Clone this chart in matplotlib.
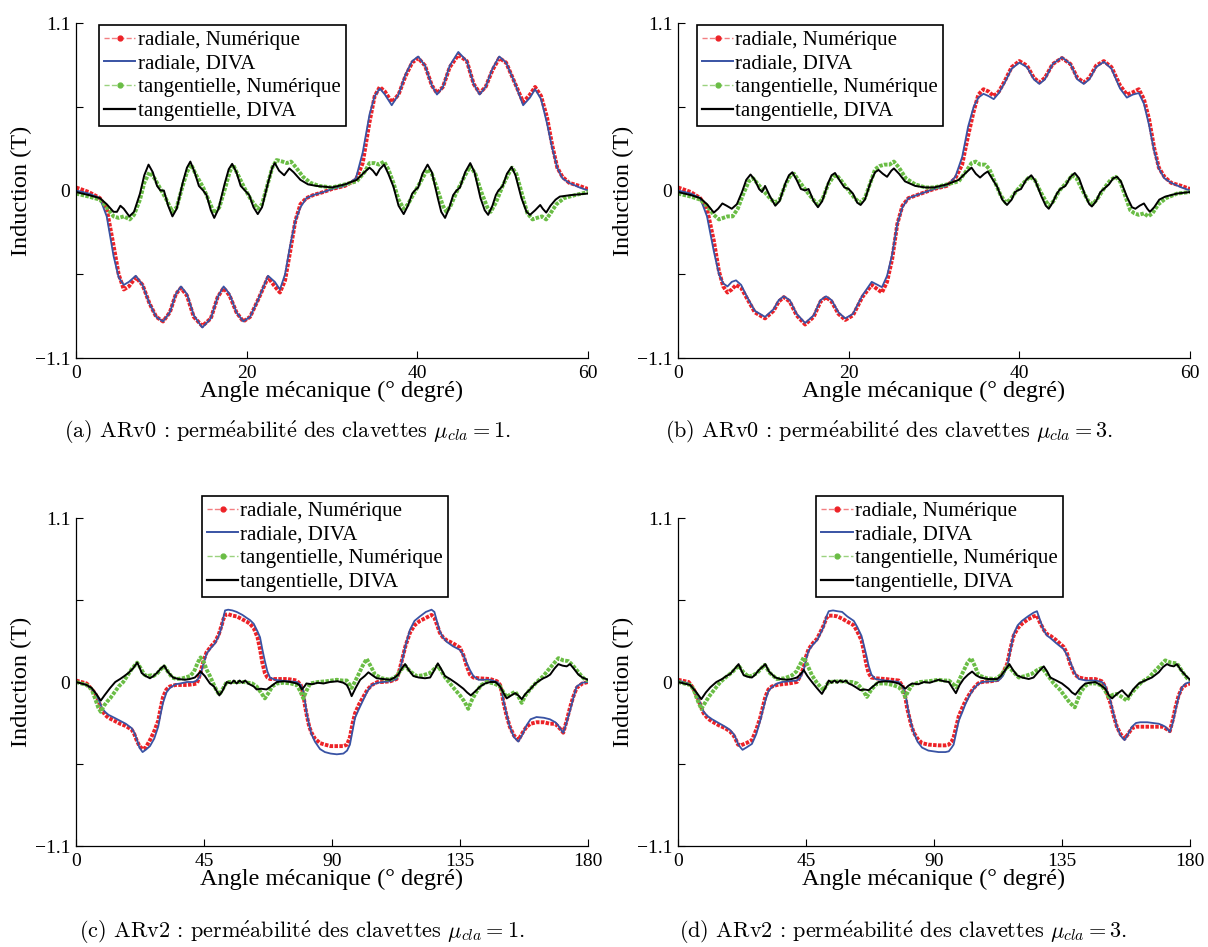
import matplotlib
matplotlib.use("Agg")
import matplotlib.pyplot as plt
from matplotlib.lines import Line2D

plt.rcParams["font.family"] = ["Liberation Serif", "DejaVu Serif"]
plt.rcParams["mathtext.fontset"] = "cm"

# ---------------- (a) ARv0, mu_cla = 1  (angle 0..60 deg) ----------------
a_rad_x = [0, 1.5, 2.8, 3.6, 4.4, 5.0, 5.6, 6.2, 7.0, 7.8, 8.6, 9.4, 10.2, 11.0, 11.7, 12.3,
           13.0, 13.8, 14.8, 15.8, 16.6, 17.3, 18.0, 18.8, 19.6, 20.4, 21.4, 22.5, 23.3, 23.9,
           24.5, 25.1, 25.7, 26.3, 27.0, 27.8, 29.0, 30.0, 31.5, 32.8, 33.6, 34.4, 35.0, 35.6,
           36.2, 37.0, 37.8, 38.6, 39.4, 40.1, 40.9, 41.7, 42.3, 43.0, 43.8, 44.8, 45.8, 46.6,
           47.3, 48.0, 48.8, 49.6, 50.4, 51.4, 52.4, 53.2, 53.8, 54.5, 55.2, 55.8, 56.4, 57.0,
           57.8, 59.0, 60.0]
a_rad_diva = [0.00, -0.02, -0.05, -0.17, -0.43, -0.57, -0.62, -0.60, -0.56, -0.62, -0.74, -0.83,
              -0.86, -0.80, -0.68, -0.63, -0.68, -0.82, -0.90, -0.84, -0.70, -0.63, -0.68, -0.80,
              -0.86, -0.83, -0.71, -0.56, -0.60, -0.65, -0.55, -0.36, -0.20, -0.11, -0.05, -0.03,
              -0.01, 0.01, 0.03, 0.08, 0.25, 0.50, 0.62, 0.67, 0.63, 0.56, 0.63, 0.76, 0.85, 0.88,
              0.82, 0.69, 0.63, 0.68, 0.82, 0.91, 0.85, 0.70, 0.63, 0.68, 0.80, 0.88, 0.84, 0.71,
              0.56, 0.61, 0.665, 0.60, 0.44, 0.28, 0.15, 0.08, 0.05, 0.02, 0.00]
a_rad_num = [0.02, -0.01, -0.05, -0.12, -0.36, -0.55, -0.65, -0.63, -0.57, -0.62, -0.74, -0.83,
             -0.86, -0.80, -0.68, -0.64, -0.69, -0.83, -0.89, -0.84, -0.70, -0.64, -0.69, -0.80,
             -0.86, -0.83, -0.71, -0.57, -0.63, -0.67, -0.59, -0.40, -0.20, -0.09, -0.05, -0.03,
             -0.01, 0.01, 0.03, 0.07, 0.18, 0.45, 0.62, 0.68, 0.65, 0.58, 0.63, 0.75, 0.84, 0.87,
             0.82, 0.69, 0.64, 0.68, 0.81, 0.89, 0.85, 0.70, 0.64, 0.68, 0.79, 0.87, 0.84, 0.71,
             0.58, 0.63, 0.68, 0.62, 0.48, 0.30, 0.15, 0.09, 0.05, 0.03, 0.01]
a_tan_diva_x = [0, 1.5, 2.8, 3.6, 4.4, 4.8, 5.2, 5.6, 6.25, 6.8, 7.5, 8.0, 8.5, 9.0, 9.5, 9.9,
                10.3, 10.8, 11.3, 11.8, 12.5, 13.0, 13.4, 13.9, 14.4, 14.9, 15.3, 15.8, 16.2,
                16.7, 17.4, 17.9, 18.3, 18.8, 19.3, 19.8, 20.3, 20.8, 21.3, 21.8, 22.5, 23.0,
                23.3, 23.8, 24.4, 25.0, 25.5, 26.3, 27.2, 28.2, 30.0, 31.5, 32.9, 33.8, 34.4,
                34.8, 35.2, 35.6, 36.1, 36.6, 37.2, 37.8, 38.4, 38.9, 39.4, 39.7, 40.1, 40.6,
                41.2, 41.7, 42.4, 42.8, 43.25, 43.7, 44.2, 44.6, 45.0, 45.6, 46.2, 46.7, 47.4,
                47.9, 48.3, 48.8, 49.2, 49.5, 50.0, 50.5, 51.05, 51.5, 52.2, 52.8, 53.2, 53.8,
                54.4, 54.7, 55.1, 55.6, 56.2, 56.7, 58.0, 60.0]
a_tan_diva = [-0.01, -0.03, -0.05, -0.09, -0.14, -0.14, -0.10, -0.12, -0.17, -0.14, -0.02, 0.10,
              0.17, 0.12, 0.03, 0.00, 0.00, -0.10, -0.17, -0.12, 0.05, 0.15, 0.19, 0.12, 0.03,
              0.00, -0.03, -0.13, -0.18, -0.12, 0.04, 0.14, 0.175, 0.12, 0.03, 0.00, -0.03, -0.11,
              -0.155, -0.11, 0.05, 0.15, 0.18, 0.13, 0.10, 0.145, 0.12, 0.07, 0.04, 0.03, 0.02,
              0.04, 0.07, 0.12, 0.15, 0.13, 0.10, 0.14, 0.17, 0.11, 0.025, -0.10, -0.155, -0.10,
              -0.02, 0.00, 0.02, 0.11, 0.17, 0.12, -0.05, -0.14, -0.18, -0.12, -0.03, 0.00, 0.02,
              0.12, 0.18, 0.12, -0.05, -0.13, -0.16, -0.10, -0.03, 0.00, 0.03, 0.11, 0.155, 0.10,
              -0.05, -0.14, -0.16, -0.13, -0.095, -0.12, -0.145, -0.10, -0.06, -0.04, -0.03, -0.02]
a_tan_num_x = [0, 1.5, 2.8, 3.6, 4.4, 5.0, 5.6, 6.3, 6.8, 7.5, 8.0, 8.6, 9.2, 9.9, 10.5, 11.3,
               11.8, 12.5, 13.0, 13.5, 14.0, 14.9, 15.6, 16.2, 16.8, 17.5, 18.0, 18.4, 19.0,
               19.8, 20.5, 21.3, 21.8, 22.5, 23.0, 23.5, 24.2, 24.7, 25.2, 25.8, 26.6, 27.5,
               28.5, 30.0, 31.5, 32.9, 33.8, 34.4, 35.0, 35.5, 36.1, 36.6, 37.2, 37.8, 38.4,
               38.9, 39.7, 40.6, 41.2, 41.7, 42.4, 43.0, 43.4, 43.9, 44.6, 45.6, 46.2, 46.8,
               47.5, 48.2, 48.6, 49.2, 50.0, 50.6, 51.1, 51.6, 52.3, 52.9, 53.5, 54.0, 54.6,
               55.1, 55.6, 56.3, 57.2, 58.5, 60.0]
a_tan_num = [-0.02, -0.04, -0.06, -0.11, -0.17, -0.18, -0.17, -0.19, -0.16, -0.06, 0.05, 0.12,
             0.08, 0.01, -0.05, -0.14, -0.11, 0.03, 0.12, 0.17, 0.11, 0.02, -0.07, -0.15, -0.11,
             0.02, 0.12, 0.17, 0.10, 0.01, -0.06, -0.12, -0.09, 0.05, 0.15, 0.20, 0.19, 0.18,
             0.19, 0.15, 0.09, 0.05, 0.03, 0.02, 0.04, 0.06, 0.12, 0.18, 0.18, 0.17, 0.19, 0.14,
             0.05, -0.06, -0.12, -0.09, -0.01, 0.08, 0.14, 0.11, 0.00, -0.10, -0.14, -0.10,
             -0.01, 0.10, 0.16, 0.11, -0.01, -0.11, -0.14, -0.08, 0.03, 0.10, 0.15, 0.11, -0.03,
             -0.15, -0.19, -0.18, -0.17, -0.19, -0.15, -0.09, -0.05, -0.03, -0.01]

# ---------------- (b) ARv0, mu_cla = 3  (angle 0..60 deg) ----------------
b_rad_x = [0, 1.5, 2.6, 3.4, 4.2, 4.8, 5.3, 5.8, 6.3, 6.8, 7.4, 8.1, 9.0, 10.2, 11.2, 11.8,
           12.4, 13.1, 13.9, 14.9, 15.9, 16.7, 17.35, 18.0, 18.8, 19.6, 20.5, 21.6, 22.7, 23.4,
           23.9, 24.5, 25.1, 25.7, 26.3, 27.0, 28.0, 29.0, 30.0, 31.5, 32.5, 33.3, 34.0, 34.65,
           35.2, 35.8, 36.4, 37.0, 37.6, 38.3, 39.1, 40.0, 40.9, 41.7, 42.35, 43.0, 43.9, 45.0,
           46.0, 46.8, 47.55, 48.2, 49.0, 49.9, 50.8, 51.8, 52.6, 53.3, 54.0, 54.6, 55.2, 55.8,
           56.35, 57.0, 57.8, 59.0, 60.0]
b_rad_diva = [0.00, -0.02, -0.05, -0.17, -0.40, -0.55, -0.61, -0.63, -0.60, -0.59, -0.62, -0.70,
              -0.79, -0.83, -0.78, -0.72, -0.695, -0.72, -0.81, -0.87, -0.82, -0.72, -0.695,
              -0.72, -0.80, -0.84, -0.81, -0.69, -0.60, -0.62, -0.635, -0.56, -0.42, -0.22, -0.11,
              -0.05, -0.03, -0.01, 0.01, 0.03, 0.09, 0.22, 0.42, 0.55, 0.61, 0.635, 0.62, 0.60,
              0.64, 0.71, 0.80, 0.84, 0.81, 0.73, 0.70, 0.73, 0.83, 0.875, 0.83, 0.73, 0.70, 0.73,
              0.81, 0.845, 0.80, 0.67, 0.61, 0.63, 0.64, 0.57, 0.43, 0.26, 0.145, 0.08, 0.05, 0.02,
              0.00]
b_rad_num = [0.02, -0.01, -0.05, -0.12, -0.33, -0.53, -0.63, -0.67, -0.65, -0.62, -0.64, -0.71,
             -0.80, -0.84, -0.79, -0.73, -0.70, -0.73, -0.82, -0.88, -0.83, -0.73, -0.70, -0.73,
             -0.81, -0.85, -0.82, -0.70, -0.62, -0.65, -0.67, -0.60, -0.45, -0.22, -0.10, -0.05,
             -0.03, -0.01, 0.01, 0.03, 0.08, 0.17, 0.36, 0.52, 0.63, 0.665, 0.65, 0.62, 0.65,
             0.72, 0.81, 0.85, 0.82, 0.74, 0.71, 0.74, 0.83, 0.87, 0.83, 0.74, 0.71, 0.74, 0.82,
             0.85, 0.81, 0.69, 0.63, 0.645, 0.665, 0.60, 0.47, 0.28, 0.15, 0.09, 0.05, 0.03, 0.01]
b_tan_diva_x = [0, 1.5, 2.6, 3.4, 4.2, 4.7, 5.2, 5.7, 6.3, 6.9, 7.5, 8.0, 8.5, 9.0, 9.5, 9.85,
                10.2, 10.8, 11.4, 11.9, 12.6, 13.0, 13.4, 13.9, 14.4, 14.9, 15.3, 15.9, 16.4,
                16.9, 17.6, 18.0, 18.4, 18.9, 19.5, 20.0, 20.5, 21.0, 21.4, 21.9, 22.6, 23.1,
                23.5, 24.0, 24.5, 25.0, 25.3, 25.9, 26.6, 27.8, 29.0, 30.0, 31.5, 32.9, 33.8,
                34.4, 34.9, 35.4, 35.9, 36.3, 36.9, 37.4, 38.0, 38.55, 39.1, 39.5, 39.8, 40.2,
                40.8, 41.4, 41.9, 42.6, 43.1, 43.45, 43.9, 44.4, 44.8, 45.4, 46.0, 46.5, 47.0,
                47.7, 48.2, 48.5, 49.0, 49.5, 49.9, 50.5, 51.0, 51.45, 51.9, 52.6, 53.2, 53.6,
                54.1, 54.6, 55.0, 55.3, 55.8, 56.4, 57.1, 58.5, 60.0]
b_tan_diva = [-0.01, -0.03, -0.05, -0.09, -0.145, -0.12, -0.085, -0.10, -0.12, -0.09, -0.01, 0.07,
              0.105, 0.07, 0.01, -0.01, 0.03, -0.04, -0.10, -0.07, 0.05, 0.10, 0.12, 0.07, 0.01,
              0.00, 0.01, -0.07, -0.11, -0.07, 0.05, 0.10, 0.115, 0.07, 0.02, 0.01, -0.02, -0.08,
              -0.095, -0.06, 0.06, 0.12, 0.135, 0.11, 0.09, 0.13, 0.145, 0.11, 0.06, 0.03, 0.02,
              0.02, 0.04, 0.07, 0.12, 0.15, 0.11, 0.085, 0.11, 0.125, 0.07, 0.025, -0.06, -0.095,
              -0.06, -0.01, 0.00, 0.01, 0.07, 0.10, 0.06, -0.04, -0.10, -0.12, -0.08, -0.02, 0.01,
              0.03, 0.09, 0.115, 0.08, -0.03, -0.09, -0.105, -0.07, -0.01, 0.01, 0.04, 0.08, 0.09,
              0.06, -0.04, -0.11, -0.12, -0.10, -0.085, -0.12, -0.14, -0.11, -0.06, -0.04, -0.02,
              -0.01]
b_tan_num_x = [0, 1.5, 2.6, 3.4, 4.2, 4.8, 5.3, 5.8, 6.4, 7.0, 7.6, 8.3, 8.8, 9.4, 10.0, 10.6,
               11.3, 11.9, 12.6, 13.2, 13.6, 14.2, 15.0, 15.7, 16.3, 16.9, 17.6, 18.2, 18.6,
               19.2, 20.0, 20.7, 21.3, 21.9, 22.6, 23.1, 23.6, 24.2, 24.8, 25.3, 25.9, 26.7,
               27.8, 29.0, 30.0, 31.5, 32.9, 33.8, 34.4, 34.9, 35.4, 36.0, 36.5, 37.1, 37.8,
               38.4, 38.9, 39.7, 40.5, 41.2, 41.8, 42.5, 43.1, 43.5, 44.0, 44.7, 45.5, 46.2,
               46.7, 47.5, 48.1, 48.6, 49.2, 50.0, 50.7, 51.3, 51.8, 52.5, 53.0, 53.5, 54.0,
               54.6, 55.1, 55.6, 56.3, 57.2, 58.5, 60.0]
b_tan_num = [-0.02, -0.04, -0.06, -0.10, -0.16, -0.19, -0.18, -0.17, -0.17, -0.12, -0.03, 0.06,
             0.08, 0.04, 0.00, -0.04, -0.08, -0.06, 0.04, 0.10, 0.11, 0.06, 0.00, -0.05, -0.09,
             -0.06, 0.04, 0.09, 0.10, 0.06, 0.00, -0.05, -0.08, -0.05, 0.06, 0.14, 0.16, 0.17,
             0.17, 0.19, 0.15, 0.08, 0.04, 0.02, 0.02, 0.04, 0.06, 0.13, 0.18, 0.19, 0.17, 0.17,
             0.14, 0.06, -0.03, -0.08, -0.06, 0.00, 0.05, 0.09, 0.07, -0.01, -0.07, -0.10, -0.07,
             0.00, 0.05, 0.10, 0.08, -0.01, -0.07, -0.09, -0.05, 0.02, 0.07, 0.09, 0.06, -0.05,
             -0.13, -0.15, -0.16, -0.15, -0.17, -0.15, -0.09, -0.05, -0.02, -0.01]

# ---------------- (c) ARv2, mu_cla = 1  (angle 0..180 deg) ----------------
c_rad_x = [0, 3.75, 6.7, 8.0, 9.0, 10.2, 11.4, 13.5, 15.5, 17.5, 19.6, 20.5, 21.3, 22.3, 23.4,
           24.5, 26.0, 27.5, 28.9, 29.8, 30.6, 31.8, 33.0, 35.0, 36.6, 39.0, 41.2, 42.5, 43.6,
           44.8, 45.9, 47.5, 48.9, 50.2, 51.2, 51.8, 52.4, 53.5, 55.0, 56.5, 58.5, 60.0, 61.2,
           62.5, 63.8, 64.7, 65.5, 66.4, 67.3, 68.2, 70.0, 71.7, 74.5, 77.6, 79.0, 79.9, 80.5,
           81.1, 82.0, 82.8, 84.0, 85.8, 87.5, 89.5, 91.7, 94.0, 95.3, 96.3, 97.2, 98.1, 99.5,
           101.0, 102.5, 104.0, 106.0, 108.0, 110.5, 112.7, 113.6, 114.5, 115.8, 117.4, 119.0,
           120.9, 123.0, 125.0, 126.0, 127.0, 127.9, 129.0, 130.3, 132.5, 135.0, 136.2, 137.3,
           138.5, 139.7, 141.5, 145.6, 148.0, 149.1, 149.8, 150.2, 151.3, 152.5, 154.0, 155.5,
           157.0, 158.4, 159.8, 161.9, 164.5, 166.6, 168.5, 169.5, 170.5, 171.3, 172.5, 173.7,
           174.8, 176.0, 178.0, 180.0]
c_rad_diva = [0.00, -0.02, -0.07, -0.12, -0.17, -0.20, -0.22, -0.24, -0.26, -0.28, -0.31, -0.34,
              -0.38, -0.44, -0.47, -0.455, -0.43, -0.38, -0.30, -0.21, -0.14, -0.07, -0.04,
              -0.015, -0.01, 0.00, 0.00, 0.01, 0.04, 0.12, 0.19, 0.23, 0.26, 0.31, 0.37, 0.43,
              0.48, 0.485, 0.48, 0.47, 0.45, 0.43, 0.415, 0.39, 0.34, 0.30, 0.22, 0.14, 0.07,
              0.03, 0.015, 0.01, 0.005, 0.00, -0.02, -0.06, -0.13, -0.21, -0.29, -0.35, -0.40,
              -0.45, -0.47, -0.48, -0.485, -0.48, -0.46, -0.42, -0.33, -0.24, -0.18, -0.12, -0.06,
              -0.02, -0.005, 0.00, 0.005, 0.02, 0.06, 0.13, 0.24, 0.35, 0.41, 0.44, 0.47, 0.485,
              0.47, 0.40, 0.34, 0.30, 0.27, 0.24, 0.215, 0.18, 0.13, 0.08, 0.04, 0.015, 0.015,
              0.00, -0.02, -0.07, -0.12, -0.21, -0.30, -0.37, -0.40, -0.35, -0.29, -0.25, -0.235,
              -0.24, -0.25, -0.27, -0.29, -0.32, -0.34, -0.27, -0.19, -0.11, -0.03, -0.005, 0.00]
c_rad_num = [0.01, -0.01, -0.075, -0.13, -0.185, -0.22, -0.24, -0.26, -0.28, -0.295, -0.32,
             -0.35, -0.39, -0.43, -0.45, -0.44, -0.39, -0.33, -0.26, -0.17, -0.10, -0.05, -0.03,
             -0.02, -0.02, -0.02, -0.015, -0.01, 0.05, 0.14, 0.20, 0.24, 0.27, 0.32, 0.38, 0.42,
             0.45, 0.455, 0.445, 0.44, 0.42, 0.405, 0.39, 0.36, 0.30, 0.22, 0.13, 0.06, 0.03,
             0.02, 0.02, 0.02, 0.02, 0.01, -0.02, -0.08, -0.16, -0.22, -0.30, -0.34, -0.38, -0.41,
             -0.42, -0.43, -0.43, -0.43, -0.42, -0.37, -0.28, -0.21, -0.15, -0.10, -0.05, -0.02,
             0.00, 0.00, 0.005, 0.02, 0.07, 0.14, 0.24, 0.33, 0.38, 0.41, 0.43, 0.45, 0.43, 0.38,
             0.33, 0.30, 0.28, 0.26, 0.23, 0.18, 0.11, 0.05, 0.03, 0.025, 0.02, 0.005, -0.02,
             -0.08, -0.13, -0.22, -0.30, -0.36, -0.39, -0.34, -0.30, -0.28, -0.27, -0.27, -0.28,
             -0.28, -0.30, -0.32, -0.34, -0.26, -0.17, -0.10, -0.04, -0.01, 0.00]
c_tan_diva_x = [0, 3.75, 5.5, 7.3, 8.7, 10.0, 12.0, 13.8, 15.5, 17.0, 18.4, 20.0, 21.5, 22.3,
                23.1, 24.5, 26.0, 27.2, 28.4, 29.8, 31.0, 32.2, 34.1, 36.0, 38.3, 40.0, 41.8,
                43.8, 45.3, 47.1, 48.5, 50.4, 51.5, 53.0, 54.5, 55.5, 56.5, 57.5, 58.5, 59.5,
                60.5, 61.5, 62.5, 63.5, 65.0, 67.0, 68.5, 70.6, 73.0, 75.5, 77.6, 78.5, 79.4,
                80.3, 81.0, 83.0, 85.0, 87.0, 89.3, 92.0, 94.0, 95.2, 96.0, 96.9, 98.3, 99.9,
                101.5, 102.8, 104.2, 105.7, 108.0, 110.4, 112.0, 113.3, 114.5, 115.7, 117.0,
                118.6, 120.5, 122.7, 124.5, 126.0, 127.2, 128.3, 129.7, 131.5, 133.8, 136.2,
                137.5, 138.8, 140.5, 142.1, 143.8, 145.6, 147.5, 149.1, 150.2, 151.4, 153.0,
                154.4, 155.5, 156.7, 158.0, 159.6, 161.5, 163.0, 164.3, 165.5, 166.7, 168.2,
                169.6, 171.0, 172.5, 173.7, 175.0, 176.6, 178.0, 180.0]
c_tan_diva = [0.00, -0.02, -0.04, -0.085, -0.125, -0.09, -0.04, 0.00, 0.02, 0.04, 0.06, 0.09, 0.13,
              0.10, 0.06, 0.04, 0.025, 0.04, 0.06, 0.09, 0.11, 0.07, 0.03, 0.02, 0.015, 0.02, 0.03,
              0.07, 0.04, -0.01, -0.03, -0.09, -0.06, 0.00, -0.01, 0.01, -0.01, 0.01, -0.005,
              0.01, -0.01, -0.02, -0.03, -0.05, -0.045, -0.05, -0.03, 0.00, 0.005, 0.00, -0.01,
              -0.02, -0.05, -0.03, -0.01, -0.015, -0.005, -0.01, 0.00, 0.005, -0.005, -0.02,
              -0.05, -0.095, -0.04, 0.015, 0.04, 0.065, 0.045, 0.025, 0.02, 0.015, 0.03, 0.05,
              0.09, 0.12, 0.08, 0.04, 0.03, 0.025, 0.03, 0.08, 0.125, 0.09, 0.04, 0.02, -0.01,
              -0.045, -0.07, -0.09, -0.06, -0.03, -0.01, 0.00, 0.00, -0.03, -0.07, -0.11, -0.09,
              -0.075, -0.09, -0.115, -0.08, -0.05, -0.01, 0.01, 0.025, 0.035, 0.05, 0.09, 0.12,
              0.11, 0.105, 0.12, 0.09, 0.05, 0.03, 0.015]
c_tan_num_x = [0, 3.75, 5.5, 6.7, 7.8, 8.7, 9.8, 11.0, 12.0, 13.5, 15.0, 16.6, 18.0, 19.5, 21.5,
               22.8, 24.0, 25.0, 26.5, 27.2, 28.7, 30.0, 31.0, 32.3, 33.8, 35.4, 37.5, 40.1,
               41.5, 42.8, 43.8, 45.0, 46.0, 47.1, 48.5, 49.5, 50.4, 51.5, 53.0, 56.0, 59.0,
               62.0, 63.5, 65.0, 66.4, 67.8, 69.0, 70.6, 73.0, 75.5, 77.6, 78.8, 79.9, 81.0,
               82.3, 85.0, 88.0, 91.7, 93.5, 95.2, 96.9, 98.0, 99.3, 100.8, 102.2, 103.5, 105.1,
               107.5, 110.4, 112.7, 114.2, 115.7, 117.5, 119.8, 122.0, 124.4, 125.8, 127.2,
               128.5, 129.8, 131.5, 133.2, 135.0, 136.5, 137.9, 139.2, 140.8, 142.5, 144.4,
               147.0, 149.1, 150.3, 151.4, 153.0, 154.4, 155.6, 156.7, 158.0, 159.6, 162.0,
               164.3, 166.0, 167.8, 169.6, 171.3, 173.1, 174.5, 176.0, 177.5, 179.0, 180.0]
c_tan_num = [0.00, -0.02, -0.05, -0.11, -0.17, -0.20, -0.16, -0.13, -0.11, -0.07, -0.03, 0.00,
             0.04, 0.085, 0.13, 0.09, 0.05, 0.04, 0.045, 0.04, 0.06, 0.09, 0.105, 0.07, 0.03, 0.02,
             0.025, 0.04, 0.07, 0.13, 0.165, 0.13, 0.08, 0.04, -0.02, -0.06, -0.085, -0.05, 0.00,
             0.00, 0.00, -0.01, -0.03, -0.07, -0.11, -0.07, -0.03, -0.01, -0.005, -0.01, -0.02,
             -0.06, -0.11, -0.06, -0.01, 0.00, 0.005, 0.015, 0.01, 0.01, -0.04, 0.00, 0.05, 0.11,
             0.155, 0.11, 0.05, 0.025, 0.015, 0.04, 0.08, 0.11, 0.07, 0.04, 0.045, 0.06, 0.085,
             0.11, 0.07, 0.03, -0.01, -0.05, -0.09, -0.13, -0.18, -0.12, -0.065, -0.02, 0.00,
             -0.01, -0.03, -0.07, -0.10, -0.08, -0.065, -0.10, -0.14, -0.09, -0.05, 0.00, 0.04,
             0.08, 0.12, 0.16, 0.145, 0.14, 0.115, 0.08, 0.045, 0.015, 0.01]

# ---------------- (d) ARv2, mu_cla = 3  (angle 0..180 deg) ----------------
d_rad_x = [0, 3.75, 5.3, 6.7, 8.0, 9.0, 10.5, 12.0, 14.3, 16.6, 18.2, 19.6, 20.4, 21.1, 22.0,
           22.7, 24.0, 26.0, 27.5, 28.9, 29.8, 30.7, 31.8, 33.0, 34.8, 36.6, 39.0, 41.8, 43.0,
           44.2, 45.0, 45.9, 47.4, 48.9, 50.2, 51.2, 52.2, 53.0, 54.5, 56.0, 57.7, 59.5, 61.8,
           63.0, 64.5, 65.3, 66.2, 67.0, 68.0, 69.4, 72.9, 77.6, 79.0, 79.9, 80.5, 81.1, 82.0,
           82.9, 84.2, 85.8, 88.0, 91.6, 94.0, 95.2, 96.2, 96.9, 97.8, 98.7, 100.0, 101.0,
           102.5, 104.0, 105.5, 106.9, 110.0, 112.7, 114.2, 115.7, 116.8, 118.0, 119.4, 120.9,
           123.0, 125.0, 126.2, 127.2, 128.6, 129.8, 130.9, 133.0, 135.6, 136.8, 137.9, 139.5,
           140.9, 143.5, 146.7, 149.0, 150.2, 151.2, 152.0, 153.2, 154.3, 155.6, 157.0, 158.2,
           159.6, 161.0, 162.5, 165.0, 167.0, 169.0, 170.3, 171.3, 172.9, 174.0, 174.9, 176.0,
           177.2, 178.5, 180.0]
d_rad_diva = [0.01, -0.01, -0.04, -0.09, -0.15, -0.20, -0.23, -0.25, -0.275, -0.30, -0.32, -0.35,
              -0.38, -0.415, -0.44, -0.455, -0.44, -0.415, -0.35, -0.26, -0.19, -0.125, -0.06,
              -0.035, -0.01, 0.00, 0.005, 0.01, 0.03, 0.08, 0.15, 0.21, 0.25, 0.28, 0.33, 0.37,
              0.44, 0.475, 0.48, 0.475, 0.47, 0.44, 0.41, 0.37, 0.31, 0.25, 0.18, 0.11, 0.05,
              0.02, 0.01, 0.00, -0.03, -0.08, -0.14, -0.21, -0.28, -0.34, -0.40, -0.44, -0.46,
              -0.47, -0.47, -0.465, -0.44, -0.42, -0.34, -0.26, -0.20, -0.15, -0.09, -0.045,
              -0.015, 0.00, 0.005, 0.01, 0.04, 0.10, 0.21, 0.32, 0.38, 0.41, 0.44, 0.465, 0.475,
              0.42, 0.345, 0.31, 0.295, 0.26, 0.22, 0.18, 0.135, 0.06, 0.02, 0.01, 0.01, 0.00,
              -0.025, -0.08, -0.125, -0.22, -0.30, -0.36, -0.39, -0.35, -0.30, -0.275, -0.27,
              -0.27, -0.275, -0.28, -0.29, -0.30, -0.335, -0.27, -0.19, -0.10, -0.035, -0.01, 0.00]
d_rad_num = [0.015, 0.00, -0.04, -0.095, -0.16, -0.21, -0.245, -0.265, -0.29, -0.31, -0.33,
             -0.36, -0.39, -0.42, -0.425, -0.42, -0.41, -0.39, -0.32, -0.24, -0.17, -0.10, -0.05,
             -0.03, -0.02, -0.015, -0.01, 0.00, 0.04, 0.10, 0.17, 0.22, 0.26, 0.29, 0.34, 0.38,
             0.43, 0.445, 0.445, 0.44, 0.425, 0.405, 0.38, 0.34, 0.28, 0.21, 0.12, 0.06, 0.03,
             0.025, 0.02, 0.01, -0.03, -0.10, -0.17, -0.22, -0.29, -0.34, -0.38, -0.41, -0.42,
             -0.425, -0.425, -0.42, -0.40, -0.37, -0.30, -0.23, -0.17, -0.13, -0.08, -0.04,
             -0.01, 0.00, 0.005, 0.015, 0.06, 0.12, 0.22, 0.31, 0.36, 0.39, 0.42, 0.44, 0.445,
             0.40, 0.35, 0.32, 0.31, 0.28, 0.235, 0.19, 0.12, 0.05, 0.03, 0.02, 0.02, 0.005,
             -0.03, -0.10, -0.14, -0.23, -0.30, -0.35, -0.38, -0.35, -0.31, -0.30, -0.30, -0.30,
             -0.30, -0.30, -0.30, -0.31, -0.33, -0.25, -0.17, -0.09, -0.04, -0.02, -0.01]
d_tan_diva_x = [0, 4.3, 6.5, 8.2, 9.8, 11.4, 13.5, 15.5, 17.0, 18.4, 20.0, 21.3, 22.2, 23.1,
                24.5, 26.0, 27.2, 28.4, 29.6, 30.7, 32.0, 34.2, 36.0, 38.3, 40.0, 41.8, 43.0,
                44.2, 45.5, 47.1, 48.8, 50.6, 51.8, 53.0, 54.0, 55.0, 56.0, 57.0, 58.0, 59.0,
                60.0, 61.2, 62.5, 64.1, 65.5, 67.0, 68.5, 70.5, 73.0, 75.5, 77.6, 78.8, 79.9,
                81.0, 82.3, 84.5, 86.5, 88.5, 89.3, 91.6, 93.5, 95.2, 96.5, 97.7, 99.0, 100.4,
                102.0, 103.4, 104.8, 106.3, 109.0, 112.2, 113.5, 115.0, 116.5, 117.8, 119.2,
                121.0, 123.3, 125.0, 126.8, 128.6, 129.8, 130.9, 133.0, 135.0, 137.3, 138.5,
                139.7, 141.5, 143.2, 146.7, 148.5, 150.2, 151.5, 152.6, 154.3, 156.1, 157.3,
                158.4, 160.0, 162.0, 164.2, 166.6, 169.0, 170.5, 171.9, 173.0, 174.3, 175.4,
                176.8, 178.4, 180.0]
d_tan_diva = [0.00, -0.02, -0.07, -0.115, -0.07, -0.035, 0.00, 0.02, 0.04, 0.055, 0.09, 0.12, 0.08,
              0.045, 0.035, 0.03, 0.05, 0.08, 0.10, 0.12, 0.07, 0.03, 0.02, 0.015, 0.02, 0.03,
              0.05, 0.08, 0.04, 0.00, -0.04, -0.08, -0.04, 0.01, -0.005, 0.01, -0.005, 0.01, 0.00,
              0.01, -0.01, -0.02, -0.035, -0.055, -0.05, -0.055, -0.03, 0.00, 0.005, 0.00, -0.01,
              -0.025, -0.045, -0.025, -0.01, -0.015, 0.00, -0.005, 0.00, 0.015, 0.005, 0.00,
              -0.04, -0.075, -0.02, 0.02, 0.05, 0.07, 0.045, 0.03, 0.02, 0.02, 0.04, 0.08, 0.12,
              0.08, 0.045, 0.03, 0.02, 0.03, 0.07, 0.105, 0.07, 0.03, 0.01, -0.01, -0.045, -0.07,
              -0.085, -0.04, -0.01, 0.00, -0.02, -0.045, -0.09, -0.11, -0.08, -0.055, -0.08,
              -0.10, -0.05, -0.01, 0.01, 0.03, 0.065, 0.10, 0.12, 0.11, 0.105, 0.12, 0.08, 0.045,
              0.015]
d_tan_num_x = [0, 4.3, 5.5, 6.7, 8.2, 9.5, 10.8, 12.8, 14.9, 17.0, 19.0, 21.3, 22.8, 24.8, 26.3,
               27.8, 29.2, 30.5, 32.3, 34.8, 37.5, 40.1, 41.6, 43.0, 44.2, 45.6, 47.1, 49.0,
               51.2, 52.2, 53.0, 57.0, 61.2, 63.0, 64.8, 66.4, 68.0, 70.0, 73.0, 75.5, 77.6,
               78.8, 79.9, 81.0, 82.3, 85.0, 88.0, 91.6, 93.5, 95.2, 96.5, 97.7, 99.0, 100.4,
               101.8, 103.1, 104.3, 105.7, 108.5, 111.6, 113.8, 116.0, 117.8, 119.8, 122.0,
               124.4, 126.3, 128.0, 129.8, 132.1, 134.2, 136.2, 137.8, 139.5, 140.5, 141.5,
               143.0, 144.4, 147.0, 149.0, 150.2, 151.4, 153.0, 154.3, 156.0, 157.8, 159.2,
               160.8, 163.0, 165.5, 167.5, 169.5, 171.3, 173.3, 175.4, 176.6, 177.8, 179.0, 180.0]
d_tan_num = [0.00, -0.02, -0.05, -0.115, -0.18, -0.14, -0.10, -0.05, 0.00, 0.035, 0.065, 0.11,
             0.07, 0.035, 0.045, 0.06, 0.09, 0.115, 0.06, 0.02, 0.025, 0.045, 0.07, 0.12, 0.165,
             0.11, 0.045, -0.01, -0.055, -0.02, 0.00, 0.005, 0.00, -0.01, -0.05, -0.10, -0.05,
             -0.01, -0.01, -0.02, -0.035, -0.06, -0.10, -0.06, -0.02, 0.00, 0.005, 0.015, 0.01,
             0.01, -0.01, -0.035, 0.02, 0.075, 0.13, 0.16, 0.11, 0.045, 0.025, 0.02, 0.05, 0.11,
             0.07, 0.03, 0.04, 0.055, 0.08, 0.095, 0.05, -0.01, -0.05, -0.10, -0.14, -0.17, -0.12,
             -0.07, -0.03, -0.01, -0.01, -0.025, -0.06, -0.10, -0.085, -0.08, -0.10, -0.125,
             -0.08, -0.045, 0.00, 0.03, 0.07, 0.11, 0.145, 0.13, 0.125, 0.09, 0.055, 0.025, 0.015]

panels = [
    ("a", a_rad_x, a_rad_num, a_rad_diva, a_tan_num_x, a_tan_num, a_tan_diva_x, a_tan_diva),
    ("b", b_rad_x, b_rad_num, b_rad_diva, b_tan_num_x, b_tan_num, b_tan_diva_x, b_tan_diva),
    ("c", c_rad_x, c_rad_num, c_rad_diva, c_tan_num_x, c_tan_num, c_tan_diva_x, c_tan_diva),
    ("d", d_rad_x, d_rad_num, d_rad_diva, d_tan_num_x, d_tan_num, d_tan_diva_x, d_tan_diva),
]
# accented e through mathtext so that the Computer Modern caption font has the glyph
E_ACUTE = r"$\acute{\mathrm{e}}$"
captions = [
    "(a) ARv0 : perm" + E_ACUTE + "abilit" + E_ACUTE + r" des clavettes $\mu_{cla} = 1$.",
    "(b) ARv0 : perm" + E_ACUTE + "abilit" + E_ACUTE + r" des clavettes $\mu_{cla} = 3$.",
    "(c) ARv2 : perm" + E_ACUTE + "abilit" + E_ACUTE + r" des clavettes $\mu_{cla} = 1$.",
    "(d) ARv2 : perm" + E_ACUTE + "abilit" + E_ACUTE + r" des clavettes $\mu_{cla} = 3$.",
]
xmax = [60, 60, 180, 180]
xticks = [[0, 20, 40, 60], [0, 20, 40, 60], [0, 45, 90, 135, 180], [0, 45, 90, 135, 180]]
legend_labels = ["radiale, Numérique", "radiale, DIVA", "tangentielle, Numérique",
                 "tangentielle, DIVA"]

RED, BLUE, GREEN, BLACK = "#ed2227", "#3953a4", "#6abd45", "#000000"

W, H = 1208, 947
fig = plt.figure(figsize=(W / 100, H / 100), dpi=100)
# axes boxes in pixels: (left, top, right, bottom)
boxes = [(76, 23, 588, 358), (678, 23, 1190, 358),
         (76, 518, 588, 846), (678, 518, 1190, 846)]
legend_anchor = [(0.045, 0.994), (0.037, 0.994), (0.246, 1.067), (0.270, 1.067)]
caption_pos = [(287, 432), (889, 432), (302, 932), (903, 932)]

for i, (tag, rx, rnum, rdiva, tnx, tnum, tdx, tdiva) in enumerate(panels):
    l, t, r, b = boxes[i]
    ax = fig.add_axes([l / W, 1 - b / H, (r - l) / W, (b - t) / H])
    ax.plot(rx, rnum, color=RED, lw=2.8, dashes=(0.9, 0.35))
    ax.plot(rx, rdiva, color=BLUE, lw=1.3)
    ax.plot(tnx, tnum, color=GREEN, lw=2.8, dashes=(0.9, 0.35))
    ax.plot(tdx, tdiva, color=BLACK, lw=1.4)

    ax.set_xlim(0, xmax[i])
    ax.set_ylim(-1.1, 1.1)
    ax.set_xticks(xticks[i])
    ax.set_yticks([-1.1, -0.55, 0, 0.55, 1.1])
    ax.set_yticklabels(["\u22121.1", "", "0", "", "1.1"])
    ax.tick_params(direction="in", length=5, width=0.8, labelsize=14, pad=4)
    ax.tick_params(axis="x", pad=5)
    for side in ("top", "right"):
        ax.spines[side].set_visible(False)
    for side in ("left", "bottom"):
        ax.spines[side].set_linewidth(0.9)

    ax.set_xlabel("Angle mécanique (° degré)", fontsize=17.5)
    ax.set_ylabel("Induction (T)", fontsize=17.5)
    ax.xaxis.set_label_coords(0.5, -23 / (b - t))
    ax.yaxis.set_label_coords(-44 / (r - l), 0.5)

    handles = [
        Line2D([], [], color="#f37f82", lw=1.0, ls="--", marker="o", ms=3.5,
               mfc=RED, mec=RED),
        Line2D([], [], color=BLUE, lw=1.4),
        Line2D([], [], color="#9bd27f", lw=1.0, ls="--", marker="o", ms=3.5,
               mfc=GREEN, mec=GREEN),
        Line2D([], [], color=BLACK, lw=1.6),
    ]
    leg = ax.legend(handles, legend_labels, loc="upper left",
                    bbox_to_anchor=legend_anchor[i], fontsize=15, frameon=True,
                    fancybox=False, edgecolor="black", framealpha=1,
                    handlelength=1.5, handletextpad=0.1, labelspacing=0.2,
                    borderpad=0.25, borderaxespad=0, numpoints=1)
    leg.get_frame().set_linewidth(1.2)

    cx, cy = caption_pos[i]
    fig.text(cx / W, 1 - cy / H, captions[i], ha="center", va="center",
             fontsize=16, family=["cmr10", "DejaVu Serif"])

fig.savefig("out.png", dpi=100)
